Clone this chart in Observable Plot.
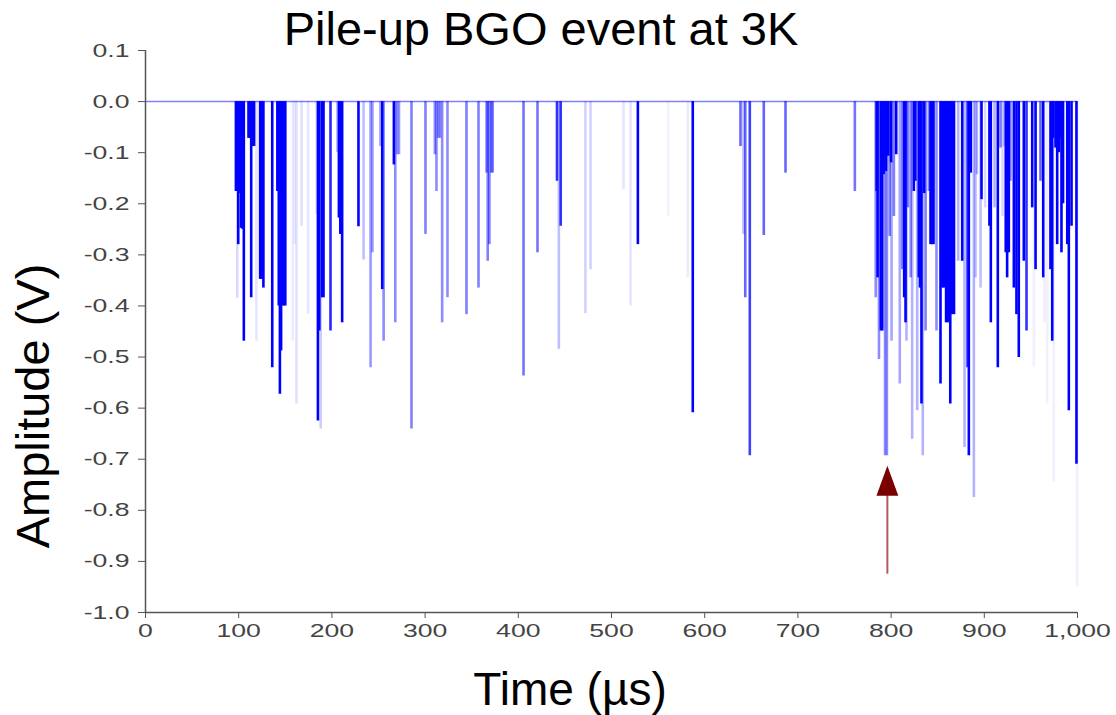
<!DOCTYPE html>
<html>
<head>
<meta charset="utf-8">
<script src="https://cdn.jsdelivr.net/npm/d3@7"></script>
<script src="https://cdn.jsdelivr.net/npm/@observablehq/plot@0.6"></script>
<style>
  html, body { margin: 0; padding: 0; background: #fff; }
  #chart { position: relative; width: 1116px; height: 715px; }
</style>
</head>
<body>
<div id="chart"></div>
<script>
// Pulse times (µs), amplitudes (V) and display opacity
const times = [
  97, 98.5, 99.5, 101, 102.5, 104, 105.5, 110.5, 112, 113.4, 115, 116.5, 119, 123, 124.5, 126.5,
  136, 141.5, 143, 144.2, 145.5, 147, 148.5, 150, 158, 160, 162, 167.4, 174.5, 183.5, 185, 186.5,
  188, 189.5, 191, 198.5,
  206, 207.5, 209, 211, 228.5, 234, 241.5, 243.5, 252, 254, 255.5, 266.5, 268, 270, 272, 285.4,
  300.4, 310.5, 312.2, 314, 316, 318.3, 324, 344.4, 357.3, 366, 367.2, 369, 371, 372.5, 405.6,
  420.6, 441.5, 443.5, 445.5, 472, 477.5,
  512.9, 520.4, 528.3, 561, 581.9, 587.2, 638.4, 641.6, 643.5, 648.4, 663.4, 686.7, 761.1,
  783.5, 784.5, 785.5, 787, 789, 790.5, 792, 793.5, 794.5, 795.5, 797, 798.5, 800, 800.5, 803, 805.5, 809.3,
  812, 814, 815.5, 816.5, 818, 821, 822.6, 824.4, 826, 828, 829.7, 831, 832.6, 834, 835.5, 837, 840.5,
  842.3, 844, 845.5, 848.7, 853, 855, 857, 859, 861, 863.5, 865.5, 867.5, 872, 876.3, 878.8, 882,
  883.4, 885.5, 888.8, 890.6, 892, 896, 897, 901, 905.5, 907, 911, 914.5, 917.4, 919.5, 921, 923,
  924.5, 926.3, 928, 931.7, 934.5, 937, 942.4, 945.3, 951.4, 953.1, 955, 960.3, 963.2, 964.5,
  967.5, 971, 972.9, 974, 974.6, 976.4, 978.2, 980, 981, 982.8, 984.5, 989, 990.7, 993.6, 998.9, 999.7
];
const amplitudes = [
  -0.176, -0.385, -0.28, -0.18, -0.248, -0.25, -0.469, -0.072, -0.072, -0.384, -0.088, -0.088, -0.469, -0.348, -0.348, -0.365,
  -0.521, -0.176, -0.40, -0.573, -0.488, -0.40, -0.40, -0.40, -0.469, -0.28, -0.592, -0.244, -0.416, -0.221, -0.625, -0.449,
  -0.641, -0.384, -0.384, -0.449,
  -0.10, -0.228, -0.26, -0.433, -0.245, -0.31, -0.521, -0.296, -0.088, -0.368, -0.469, -0.124, -0.433, -0.104, -0.104, -0.641,
  -0.26, -0.104, -0.176, -0.072, -0.072, -0.433, -0.384, -0.417, -0.365, -0.14, -0.3125, -0.28, -0.14, -0.14, -0.537,
  -0.296, -0.156, -0.485, -0.244, -0.415, -0.329,
  -0.1725, -0.40, -0.28, -0.225, -0.345, -0.609, -0.088, -0.26, -0.384, -0.693, -0.262, -0.14, -0.176,
  -0.384, -0.176, -0.345, -0.505, -0.449, -0.449, -0.143, -0.693, -0.137, -0.693, -0.107, -0.264, -0.12, -0.469, -0.225, -0.104, -0.553,
  -0.329, -0.384, -0.433, -0.469, -0.208, -0.345, -0.661, -0.176, -0.156, -0.605, -0.345, -0.365, -0.592, -0.693, -0.18, -0.449, -0.176,
  -0.28, -0.28, -0.28, -0.449, -0.553, -0.365, -0.365, -0.433, -0.433, -0.592, -0.417, -0.417, -0.3125, -0.3125, -0.677, -0.521,
  -0.693, -0.14, -0.775, -0.345, -0.143, -0.365, -0.192, -0.208, -0.244, -0.433, -0.208, -0.521, -0.091, -0.225, -0.088, -0.296,
  -0.345, -0.296, -0.156, -0.365, -0.417, -0.501, -0.3125, -0.449, -0.208, -0.521, -0.329, -0.156, -0.345, -0.433,
  -0.592, -0.329, -0.469, -0.072, -0.745, -0.091, -0.28, -0.10, -0.072, -0.296, -0.20, -0.28, -0.605, -0.244, -0.71, -0.95
];
const opacities = [
  1, 0.15, 1, 1, 1, 1, 1, 1, 1, 1, 1, 1, 0.1, 1, 1, 1,
  1, 1, 1, 1, 1, 1, 1, 1, 0.08, 0.08, 0.12, 0.12, 0.1, 0.12, 1, 1,
  0.2, 1, 1, 0.85,
  0.3, 1, 1, 1, 1, 0.25, 0.4, 0.4, 0.35, 1, 0.45, 1, 0.45, 0.4, 0.4, 0.5,
  0.5, 0.45, 0.45, 0.45, 0.45, 0.45, 0.45, 0.5, 0.5, 0.5, 0.5, 0.5, 0.5, 0.5, 0.55,
  0.55, 0.8, 0.25, 0.8, 0.18, 0.18,
  0.1, 0.1, 1, 0.05, 0.08, 1, 0.6, 0.25, 0.6, 0.75, 0.6, 0.6, 0.55,
  0.45, 1, 1, 0.45, 1, 1, 1, 0.45, 1, 0.45, 1, 0.5, 1, 0.35, 0.5, 1, 0.35,
  0.5, 1, 1, 0.3, 0.5, 0.45, 0.3, 1, 1, 0.3, 1, 1, 1, 0.3, 1, 0.5, 0.5,
  1, 1, 1, 0.45, 1, 1, 1, 1, 1, 1, 1, 1, 0.3, 1, 0.3, 0.8,
  1, 1, 0.3, 0.25, 0.3, 0.25, 1, 0.15, 1, 1, 0.3, 1, 0.5, 0.15, 0.2, 1,
  1, 1, 0.5, 1, 1, 1, 1, 0.8, 1, 0.06, 1, 0.6, 1, 0.07,
  0.06, 1, 1, 1, 0.06, 1, 1, 1, 1, 1, 1, 1, 1, 1, 1, 0.06
];
const xTicks = [0, 100, 200, 300, 400, 500, 600, 700, 800, 900, 1000];
const yTicks = [0.1, 0.0, -0.1, -0.2, -0.3, -0.4, -0.5, -0.6, -0.7, -0.8, -0.9, -1.0];
const arrowTime = [796];
const arrowTip = [-0.742];
const arrowTail = [-0.925];
const arrowStemTop = [-0.77];

const spikes = times.map((t, i) => ({t, a: amplitudes[i], o: opacities[i]}));
const arrow = arrowTime.map((t, i) => ({t, tip: arrowTip[i], tail: arrowTail[i], top: arrowStemTop[i]}));

const headSymbol = {
  draw(context, size) {
    const r = Math.sqrt(size / Math.PI);
    context.moveTo(0, -r);
    context.lineTo(r * 0.73, r);
    context.lineTo(-r * 0.73, r);
    context.closePath();
  }
};

const chart = Plot.plot({
  width: 1116,
  height: 715,
  marginLeft: 145,
  marginRight: 39,
  marginTop: 50,
  marginBottom: 103,
  style: {fontFamily: "'Liberation Sans', Arial, sans-serif", fontSize: "19px", color: "#444", background: "#fff"},
  x: {domain: [0, 1000]},
  y: {domain: [-1, 0.1]},
  opacity: {type: "identity"},
  marks: [
    Plot.ruleY([0], {stroke: "#0000ff", strokeOpacity: 0.5, strokeWidth: 1.5}),
    Plot.ruleX(spikes, {x: "t", y1: 0, y2: "a", stroke: "#0000ff", strokeOpacity: "o", strokeWidth: 2.6}),
    Plot.ruleX([0], {y1: -1, y2: 0.1, stroke: "#555", strokeWidth: 1.5}),
    Plot.ruleY([-1], {stroke: "#555", strokeWidth: 1.5}),
    Plot.axisY({ticks: yTicks, tickFormat: d => d.toFixed(1), tickSize: 7, tickPadding: 9, label: null, stroke: "#555"}),
    Plot.axisX({ticks: xTicks, tickFormat: d3.format(","), tickSize: 6, tickPadding: 5, label: null, stroke: "#555"}),
    Plot.ruleX(arrow, {x: "t", y1: "top", y2: "tail", stroke: "#b05a5a", strokeWidth: 2}),
    Plot.dot(arrow, {x: "t", y: "tip", r: 15, symbol: headSymbol, fill: "#7a0000", stroke: "none"})
  ]
});

const svg = d3.select(chart);
// widen tick labels like the reference's stretched font
svg.selectAll("g[aria-label='x-axis tick label'] text, g[aria-label='y-axis tick label'] text").each(function() {
  const tr = this.getAttribute("transform") || "";
  this.setAttribute("transform", tr + " scale(1.4,1)");
});

const font = "'Liberation Sans', Arial, sans-serif";
svg.append("text").attr("x", 541).attr("y", 45).attr("text-anchor", "middle")
  .attr("font-family", font).attr("font-size", 47).attr("fill", "#000").text("Pile-up BGO event at 3K");
svg.append("text").attr("x", 570).attr("y", 705).attr("text-anchor", "middle")
  .attr("font-family", font).attr("font-size", 46).attr("fill", "#000").text("Time (µs)");
svg.append("text").attr("transform", "translate(49,406) rotate(-90)").attr("text-anchor", "middle")
  .attr("font-family", font).attr("font-size", 47).attr("fill", "#000").text("Amplitude (V)");

document.getElementById("chart").appendChild(chart);
</script>
</body>
</html>
